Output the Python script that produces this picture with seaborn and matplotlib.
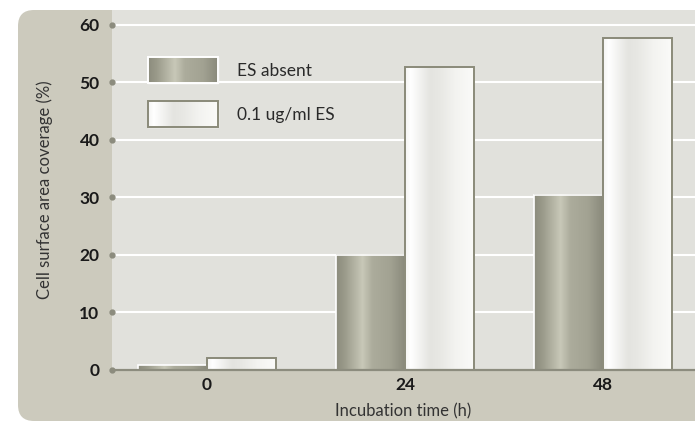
import numpy as np
import pandas as pd
import matplotlib
matplotlib.use("Agg")
import matplotlib.pyplot as plt
import matplotlib.colors as mcolors
from matplotlib.patches import FancyBboxPatch, Rectangle
from matplotlib.transforms import IdentityTransform, blended_transform_factory
import seaborn as sns

# data
times = ["0", "24", "48"]
es_absent = [0.8, 20.0, 30.5]
es_01 = [2.0, 52.7, 57.7]
series = ["ES absent", "0.1 ug/ml ES"]
yticks = [0, 10, 20, 30, 40, 50, 60]

df = pd.DataFrame({
    "time": times * 2,
    "coverage": es_absent + es_01,
    "group": [series[0]] * 3 + [series[1]] * 3,
})

sns.set_theme(style="white")
plt.rcParams["font.family"] = ["Lato", "DejaVu Sans"]

W, H = 695, 422
fig = plt.figure(figsize=(W / 100, H / 100), dpi=100)
fig.patch.set_facecolor("white")

# beige rounded panel behind everything
panel = FancyBboxPatch((18, 1), 720, 411, boxstyle="round,pad=0,rounding_size=16",
                       transform=IdentityTransform(), facecolor="#cccabd",
                       edgecolor="none", zorder=-10)
fig.add_artist(panel)

ax = fig.add_axes([112 / W, (H - 370) / H, (W - 112) / W, 360 / H])
ax.set_facecolor("#e1e1dc")

sns.barplot(data=df, x="time", y="coverage", hue="group", order=times,
            hue_order=series, palette=["#a8a898", "#f0f0ec"], width=0.7,
            ax=ax, legend=True)

dark_grad = [(0.0, "#8c8c7d"), (0.12, "#9a9a8a"), (0.38, "#c8c8b8"),
             (0.52, "#acac9c"), (0.78, "#a2a292"), (1.0, "#88887a")]
light_grad = [(0.0, "#f4f4f2"), (0.08, "#ffffff"), (0.36, "#e4e4e0"),
              (0.5, "#e8e8e4"), (0.72, "#f3f3f0"), (1.0, "#fbfbf9")]


def grad_img(stops, n=200):
    pos = np.array([s[0] for s in stops])
    cols = np.array([mcolors.to_rgb(s[1]) for s in stops])
    xs = np.linspace(0, 1, n)
    img = np.stack([np.interp(xs, pos, cols[:, k]) for k in range(3)], axis=-1)
    return img[None, :, :]


dark_img = grad_img(dark_grad)
light_img = grad_img(light_grad)

bars = [p for p in ax.patches if isinstance(p, Rectangle) and p.get_height() > 0]
for i, p in enumerate(bars):
    is_dark = i < len(times)
    x0, y0, w, h = p.get_x(), p.get_y(), p.get_width(), p.get_height()
    ax.imshow(dark_img if is_dark else light_img, extent=(x0, x0 + w, y0, y0 + h),
              aspect="auto", interpolation="bilinear", zorder=2)
    p.set_facecolor("none")
    p.set_zorder(3)
    if is_dark:
        p.set_edgecolor("white")
        p.set_linewidth(1.2)
    else:
        p.set_edgecolor("#8a8a79")
        p.set_linewidth(1.4)

ax.set_xlim(-0.48, 2.465)
ax.set_ylim(0, 62.6)
ax.set_yticks(yticks)
ax.grid(axis="y", color="white", linewidth=1.5)
ax.set_axisbelow(True)
for s in ["top", "right", "left"]:
    ax.spines[s].set_visible(False)
ax.spines["bottom"].set_color("#8c8c7e")
ax.spines["bottom"].set_linewidth(1.6)
ax.spines["bottom"].set_zorder(4)

ax.tick_params(axis="y", length=0, pad=9, labelsize=12.5, labelcolor="#1a1a1a")
ax.tick_params(axis="x", length=0, pad=5, labelsize=12.5, labelcolor="#1a1a1a")
for lab in ax.get_yticklabels() + ax.get_xticklabels():
    lab.set_fontweight("bold")

# tick dots on the left edge
tr = blended_transform_factory(ax.transAxes, ax.transData)
ax.plot([0] * len(yticks), yticks, "o", color="#8c8c7e", markersize=3.5,
        transform=tr, clip_on=False, zorder=5)

ax.set_xlabel("Incubation time (h)", fontsize=12, color="#333333")
ax.set_ylabel("Cell surface area coverage (%)", fontsize=12, color="#333333")
ax.xaxis.set_label_coords(0.5, -0.093)
ax.yaxis.set_label_coords(-0.102, 0.5)

leg = ax.legend(loc="upper left", bbox_to_anchor=(0.0617, 0.869), frameon=False,
                fontsize=12.5, handlelength=4.05, handleheight=1.92,
                handletextpad=1.1, labelspacing=1.05, borderpad=0, borderaxespad=0)
for t in leg.get_texts():
    t.set_color("#2a2a2a")

fig.canvas.draw()
inv = ax.transAxes.inverted()
for i, hp in enumerate(leg.get_patches()):
    bb = hp.get_window_extent()
    (ax0, ay0), (ax1, ay1) = inv.transform([[bb.x0, bb.y0], [bb.x1, bb.y1]])
    ax.imshow(dark_img if i == 0 else light_img, extent=(ax0, ax1, ay0, ay1),
              transform=ax.transAxes, aspect="auto", interpolation="bilinear",
              zorder=6, clip_on=False)
    ax.add_patch(Rectangle((ax0, ay0), ax1 - ax0, ay1 - ay0, transform=ax.transAxes,
                           facecolor="none",
                           edgecolor="white" if i == 0 else "#8a8a79",
                           linewidth=1.4, zorder=7, clip_on=False))

ax.set_xlim(-0.48, 2.465)
ax.set_ylim(0, 62.6)
ax.set_aspect("auto")

fig.savefig("out.png", dpi=100)
plt.close(fig)
